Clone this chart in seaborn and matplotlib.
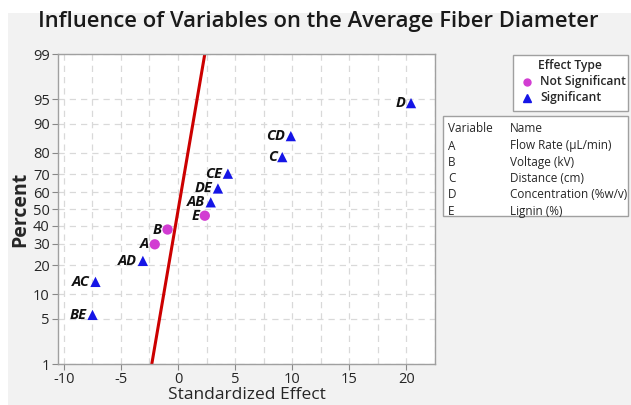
import math
import numpy as np
import pandas as pd
import matplotlib
matplotlib.use("Agg")
import matplotlib.pyplot as plt
from matplotlib.patches import Rectangle
import seaborn as sns

# effects
terms = ["BE", "AC", "AD", "A", "B", "E", "AB", "DE", "CE", "C", "CD", "D"]
effect = [-7.48, -7.22, -3.07, -2.03, -0.91, 2.35, 2.87, 3.5, 4.37, 9.13, 9.88, 20.4]
percent = [5.6, 13.7, 21.8, 29.8, 37.9, 46.0, 54.0, 62.1, 70.2, 78.2, 86.3, 94.4]
effect_type = ["Significant", "Significant", "Significant", "Not Significant",
               "Not Significant", "Not Significant", "Significant", "Significant",
               "Significant", "Significant", "Significant", "Significant"]

# reference line (effect at 1% and 99%)
line_effect = [-2.29, 2.35]
line_pct = [1, 99]

y_ticks = [1, 5, 10, 20, 30, 40, 50, 60, 70, 80, 90, 95, 99]
x_ticks = [-10, -5, 0, 5, 10, 15, 20]

var_codes = ["A", "B", "C", "D", "E"]
var_names = ["Flow Rate (\u00b5L/min)", "Voltage (kV)", "Distance (cm)",
             "Concentration (%w/v)", "Lignin (%)"]


def _ppf(p):
    # Acklam inverse normal cdf
    a = [-3.969683028665376e+01, 2.209460984245205e+02, -2.759285104469687e+02,
         1.383577518672690e+02, -3.066479806614716e+01, 2.506628277459239e+00]
    b = [-5.447609879822406e+01, 1.615858368580409e+02, -1.556989798598866e+02,
         6.680131188771972e+01, -1.328068155288572e+01]
    c = [-7.784894002430293e-03, -3.223964580411365e-01, -2.400758277161838e+00,
         -2.549732539343734e+00, 4.374664141464968e+00, 2.938163982698783e+00]
    d = [7.784695709041462e-03, 3.224671290700398e-01, 2.445134137142996e+00,
         3.754408661907416e+00]
    plow = 0.02425
    if p < plow:
        q = math.sqrt(-2 * math.log(p))
        return (((((c[0]*q+c[1])*q+c[2])*q+c[3])*q+c[4])*q+c[5]) / \
            ((((d[0]*q+d[1])*q+d[2])*q+d[3])*q+1)
    if p > 1 - plow:
        q = math.sqrt(-2 * math.log(1 - p))
        return -(((((c[0]*q+c[1])*q+c[2])*q+c[3])*q+c[4])*q+c[5]) / \
            ((((d[0]*q+d[1])*q+d[2])*q+d[3])*q+1)
    q = p - 0.5
    r = q * q
    return (((((a[0]*r+a[1])*r+a[2])*r+a[3])*r+a[4])*r+a[5])*q / \
        (((((b[0]*r+b[1])*r+b[2])*r+b[3])*r+b[4])*r+1)


_vppf = np.vectorize(_ppf, otypes=[float])
_vcdf = np.vectorize(lambda v: 50.0 * (1 + math.erf(v / math.sqrt(2))), otypes=[float])


def fwd(p):
    p = np.clip(np.asarray(p, dtype=float) / 100.0, 1e-12, 1 - 1e-12)
    return _vppf(p)


def inv(z):
    return _vcdf(np.asarray(z, dtype=float))


df = pd.DataFrame({"term": terms, "effect": effect, "percent": percent,
                   "Effect Type": effect_type})

sns.set_style("white")
plt.rcParams["font.family"] = ["Open Sans", "DejaVu Sans"]
plt.rcParams["axes.unicode_minus"] = False

fig = plt.figure(figsize=(6.31, 4.05), dpi=100)
fig.patch.set_facecolor("white")
fig.patches.append(Rectangle((8 / 631, 0), 1, 1 - 13 / 405, transform=fig.transFigure,
                             facecolor="#f2f2f2", edgecolor="none", zorder=-10))

ax = fig.add_axes([58 / 631, 1 - 364 / 405, (435 - 58) / 631, (364 - 54) / 405])
ax.set_facecolor("white")
ax.set_yscale("function", functions=(fwd, inv))

ax.plot(line_effect, line_pct, color="#cc0000", lw=2.2, zorder=2)

pal = {"Not Significant": "#d23cd2", "Significant": "#1515e6"}
marks = {"Not Significant": "o", "Significant": "^"}
sns.scatterplot(data=df, x="effect", y="percent", hue="Effect Type", style="Effect Type",
                palette=pal, markers=marks, s=55, edgecolor="none", ax=ax,
                legend=False, zorder=3)

for t, x, y in zip(terms, effect, percent):
    ax.annotate(t, (x, y), xytext=(-4, 0), textcoords="offset points",
                ha="right", va="center", fontsize=10.5, fontweight="bold",
                fontstyle="italic", color="#111111")

ax.set_xlim(-10.5, 22.1)
ax.set_ylim(1, 99)
ax.set_yticks(y_ticks)
ax.set_yticklabels([str(v) for v in y_ticks])
ax.set_xticks(x_ticks)
ax.set_xticks(np.arange(-10, 22.6, 2.5), minor=True)
ax.grid(True, which="both", axis="x", color="#d9d9d9", ls=(0, (5, 4)), lw=0.9)
ax.grid(True, which="major", axis="y", color="#d9d9d9", ls=(0, (5, 4)), lw=0.9)
ax.tick_params(axis="both", which="major", length=4, color="#888888", labelsize=10.5,
               direction="out", left=True, bottom=True, pad=2)
ax.tick_params(axis="x", which="minor", length=0)
ax.tick_params(axis="y", which="minor", length=0, left=False)
for s in ax.spines.values():
    s.set_color("#a0a0a0")
    s.set_linewidth(1)

ax.set_xlabel("Standardized Effect", fontsize=12.5, labelpad=0)
ax.set_ylabel("Percent", fontsize=14, fontweight="bold", labelpad=2)
fig.text(318 / 631, 1 - 22 / 405, "Influence of Variables on the Average Fiber Diameter",
         ha="center", va="center", fontsize=15.8, fontweight="semibold", color="#1a1a1a")

# effect type legend box
fig.patches.append(Rectangle((513 / 631, 1 - 111 / 405), 115 / 631, 56 / 405,
                             transform=fig.transFigure, facecolor="white",
                             edgecolor="#a0a0a0", lw=1))
fig.text(570 / 631, 1 - 66 / 405, "Effect Type", ha="center", va="center", fontsize=8.7,
         fontweight="semibold")
fig.lines.append(plt.Line2D([527 / 631], [1 - 82 / 405], marker="o", color=pal["Not Significant"],
                            ms=5, transform=fig.transFigure, ls="none"))
fig.text(540 / 631, 1 - 82 / 405, "Not Significant", ha="left", va="center", fontsize=8.7,
         fontweight="semibold")
fig.lines.append(plt.Line2D([527 / 631], [1 - 98 / 405], marker="^", color=pal["Significant"],
                            ms=6, transform=fig.transFigure, ls="none"))
fig.text(540 / 631, 1 - 98 / 405, "Significant", ha="left", va="center", fontsize=8.7,
         fontweight="semibold")

# variable table box
fig.patches.append(Rectangle((443 / 631, 1 - 216 / 405), 185 / 631, 100 / 405,
                             transform=fig.transFigure, facecolor="white",
                             edgecolor="#a0a0a0", lw=1))
fig.text(448 / 631, 1 - 129 / 405, "Variable", ha="left", va="center", fontsize=8.5)
fig.text(510 / 631, 1 - 129 / 405, "Name", ha="left", va="center", fontsize=8.5)
for i, (code, name) in enumerate(zip(var_codes, var_names)):
    yy = 1 - (146 + i * 16.3) / 405
    fig.text(448 / 631, yy, code, ha="left", va="center", fontsize=8.5)
    fig.text(510 / 631, yy, name, ha="left", va="center", fontsize=8.5)

fig.savefig("out.png", dpi=100)
